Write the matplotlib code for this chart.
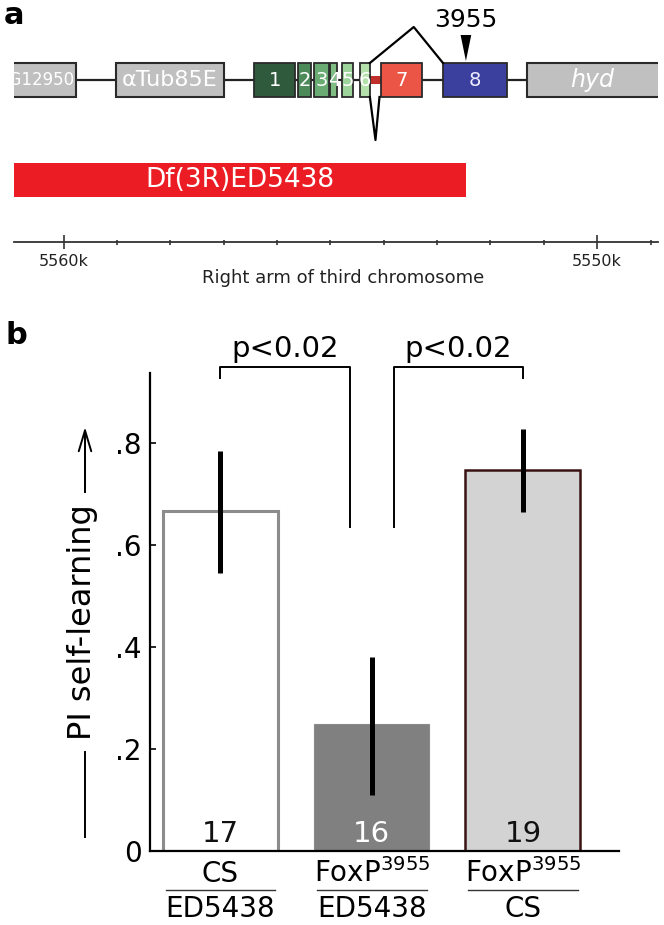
"""Região genômica do FoxP (a) e aprendizado próprio (self-learning) dos genótipos (b)."""

import numpy as np
import matplotlib
matplotlib.use('Agg')
import matplotlib.pyplot as plt
from matplotlib.patches import Rectangle, Polygon
from matplotlib.lines import Line2D

# ---------------- dados do painel a (posições em kb no 3R) ----------------
genes = ['CG12950', 'αTub85E', 'hyd']
gene_ini = [5561.6, 5559.02, 5551.31]
gene_fim = [5559.77, 5556.99, 5548.0]
gene_italico = [False, False, True]

exon_num = ['1', '2', '3', '4', '5', '6', '7', '8']
exon_ini = [5556.43, 5555.60, 5555.30, 5555.00, 5554.78, 5554.44, 5554.05, 5552.89]
exon_fim = [5555.66, 5555.36, 5555.02, 5554.87, 5554.57, 5554.26, 5553.28, 5551.69]
exon_cor = ['#2f5a3c', '#4c8a5a', '#6aab74', '#80bd85', '#9dd49b', '#b4e0ac',
            '#ea5545', '#3b3f9e']

df_nome = 'Df(3R)ED5438'
df_ini, df_fim = 5560.93, 5552.46
insercao = 5552.46          # alelo FoxP 3955
insercao_nome = '3955'

xlim_a = (5560.93, 5548.86)
ticks_maior = [5560, 5550]
ticks_maior_txt = ['5560k', '5550k']

# ---------------- dados do painel b ----------------
grupo_sup = ['CS', 'FoxP$^{3955}$', 'FoxP$^{3955}$']
grupo_inf = ['ED5438', 'ED5438', 'CS']
media = [0.667, 0.249, 0.747]
erro_inf = [0.122, 0.139, 0.082]
erro_sup = [0.117, 0.131, 0.080]
n_moscas = [17, 16, 19]
comparacoes = [(0, 1), (1, 2)]
p_textos = ['p<0.02', 'p<0.02']

plt.rcParams['font.family'] = ['DejaVu Sans']

fig = plt.figure(figsize=(6.64, 9.25), dpi=100)


# conversão de pixels da figura para fração
def fx(px):
    return px / 664.0


def fy(py):
    return 1 - py / 925.0


# ================= painel a =================
ax_a = fig.add_axes([fx(14), fy(300), fx(658) - fx(14), 300 / 925.0])
ax_a.set_xlim(*xlim_a)
ax_a.set_ylim(300, 0)   # unidades verticais = pixels
y_gene = 80
h = 17

# linha do cromossomo
ax_a.plot(xlim_a, [y_gene, y_gene], color='#222222', lw=1.6, zorder=1)

# genes vizinhos
for nome, a, b, it in zip(genes, gene_ini, gene_fim, gene_italico):
    ax_a.add_patch(Rectangle((min(a, b), y_gene - h), abs(a - b), 2 * h,
                             facecolor='#c0c0c0', edgecolor='#2a2a2a', lw=1.5, zorder=2))
    if nome == 'CG12950':
        # cortado na borda esquerda, como no original
        ax_a.text(b + 0.03, y_gene, nome, ha='right', va='center', color='white',
                  fontsize=12, clip_on=True, zorder=3)
    else:
        xa = min(a, xlim_a[0])
        xb = max(b, xlim_a[1])
        ax_a.text((xa + xb) / 2, y_gene, nome, ha='center', va='center', color='white',
                  fontsize=17 if it else 16, style='italic' if it else 'normal',
                  clip_on=True, zorder=3)

# ligação vermelha entre exon 6 e 7
ax_a.add_patch(Rectangle((exon_ini[6], y_gene - 4), exon_fim[5] - exon_ini[6], 8,
                         facecolor='#c0302a', edgecolor='none', zorder=2))

# exons do FoxP
for num, a, b, c in zip(exon_num, exon_ini, exon_fim, exon_cor):
    ax_a.add_patch(Rectangle((min(a, b), y_gene - h), abs(a - b), 2 * h,
                             facecolor=c, edgecolor='#2a2a2a', lw=1.3, zorder=3))
    ax_a.text((a + b) / 2, y_gene, num, ha='center', va='center', fontsize=14,
              color='#eeeeff' if num == '8' else 'white', zorder=4)

# splicing alternativo
xs = [exon_fim[5], exon_fim[5] + 0.6 * (exon_ini[7] - exon_fim[5]), exon_ini[7]]
ax_a.plot(xs, [y_gene - h, 27, y_gene - h], color='black', lw=1.6, zorder=4)
xs = [exon_fim[5], (exon_fim[5] + exon_ini[6]) / 2, exon_ini[6] + 0.03]
ax_a.plot(xs, [y_gene + h, 140, y_gene + h], color='black', lw=1.6, zorder=4)

# inserção 3955
ax_a.add_patch(Polygon([(insercao - 0.1, 35), (insercao + 0.1, 35), (insercao, 61)],
                       closed=True, facecolor='black', edgecolor='none', zorder=4))
ax_a.text(insercao, 20, insercao_nome, ha='center', va='center', fontsize=18)

# deficiência
ax_a.add_patch(Rectangle((df_fim, 163), df_ini - df_fim, 34, facecolor='#ec1c24',
                         edgecolor='none', zorder=2))
ax_a.text((df_ini + df_fim) / 2, 180, df_nome, ha='center', va='center',
          color='white', fontsize=19, zorder=3)

# eixo de coordenadas
for s in ['left', 'right', 'top']:
    ax_a.spines[s].set_visible(False)
ax_a.spines['bottom'].set_position(('data', 242))
ax_a.spines['bottom'].set_color('#333333')
ax_a.spines['bottom'].set_linewidth(1.3)
ax_a.set_yticks([])
ax_a.set_xticks(ticks_maior)
ax_a.set_xticklabels(ticks_maior_txt)
ax_a.set_xticks([k for k in range(5549, 5561) if k not in ticks_maior], minor=True)
ax_a.tick_params(axis='x', which='major', direction='inout', length=9.4, width=1.2,
                 labelsize=11.5, pad=4, color='#333333', labelcolor='#222222')
ax_a.tick_params(axis='x', which='minor', direction='inout', length=3.6, width=1.2,
                 color='#333333')
ax_a.text(0.511, 278, 'Right arm of third chromosome', transform=ax_a.get_yaxis_transform(),
          ha='center', va='center', fontsize=13, color='#222222')
ax_a.patch.set_visible(False)

# ================= painel b =================
ax_b = fig.add_axes([fx(150), fy(851), fx(619) - fx(150), fy(373) - fy(851)])
x = np.arange(len(media))
cores = ['white', '#808080', '#d3d3d3']
bordas = ['#8c8c8c', '#8a8a8a', '#3a1212']
larguras = [2.2, 0.8, 1.8]
ax_b.bar(x, media, width=0.76, color=cores, edgecolor=bordas, linewidth=larguras, zorder=2)
ax_b.errorbar(x, media, yerr=[erro_inf, erro_sup], fmt='none', ecolor='black',
              elinewidth=3.6, capsize=0, zorder=3)
ax_b.set_xlim(-0.466, 2.635)
ax_b.set_ylim(0, 0.937)

# número de moscas
for xi, n in zip(x, n_moscas):
    ax_b.text(xi, 0.018, str(n), ha='center', va='baseline', fontsize=21,
              color='white' if n == 16 else '#111111', zorder=4)

# rótulos dos genótipos
for xi, s, i in zip(x, grupo_sup, grupo_inf):
    ax_b.annotate(s, xy=(xi, 0), xycoords=('data', 'axes fraction'), xytext=(0, -22.3),
                  textcoords='offset points', ha='center', va='baseline', fontsize=20)
    ax_b.annotate(i, xy=(xi, 0), xycoords=('data', 'axes fraction'), xytext=(0, -47.5),
                  textcoords='offset points', ha='center', va='baseline', fontsize=20)
    ax_b.plot([xi - 0.363, xi + 0.363], [-0.0765, -0.0765], color='#333333', lw=1.0,
              clip_on=False)


# colchetes de significância
def perna(i, j):
    if media[i] < media[j]:
        return i + 0.145 * np.sign(j - i), 0.635
    return i, 0.927


for (a, b), p in zip(comparacoes, p_textos):
    xa, ya = perna(a, b)
    xb, yb = perna(b, a)
    ax_b.plot([xa, xa, xb, xb], [ya, 0.949, 0.949, yb], color='black', lw=1.4,
              clip_on=False)
    ax_b.text((xa + xb) / 2, 0.984, p, ha='center', va='center', fontsize=21)

ax_b.set_xticks([])
ax_b.set_yticks([0, 0.2, 0.4, 0.6, 0.8])
ax_b.set_yticklabels(['0', '.2', '.4', '.6', '.8'])
ax_b.tick_params(axis='y', direction='in', length=4, width=1.2, labelsize=20, pad=6)
for s in ['right', 'top']:
    ax_b.spines[s].set_visible(False)
for s in ['left', 'bottom']:
    ax_b.spines[s].set_linewidth(1.6)

# rótulo do eixo y com seta
fig.text(fx(83), fy(622), 'PI self-learning', rotation=90, ha='center', va='center',
         fontsize=23)
fig.add_artist(Line2D([fx(85), fx(85)], [fy(752), fy(837)], transform=fig.transFigure,
                      color='black', lw=1.4))
fig.add_artist(Line2D([fx(85), fx(85)], [fy(440), fy(492)], transform=fig.transFigure,
                      color='black', lw=1.4))
ax_b.annotate('', xy=(fx(85), fy(427)), xytext=(fx(85), fy(492)), xycoords='figure fraction',
              arrowprops=dict(arrowstyle='->, head_length=1.0, head_width=0.3',
                              lw=1.4, color='black', mutation_scale=15, shrinkA=0, shrinkB=0))

# letras dos painéis
fig.text(fx(4), fy(1), 'a', fontsize=22, fontweight='bold', ha='left', va='top')
fig.text(fx(5), fy(321), 'b', fontsize=22, fontweight='bold', ha='left', va='top')

fig.savefig('out.png', dpi=100)
